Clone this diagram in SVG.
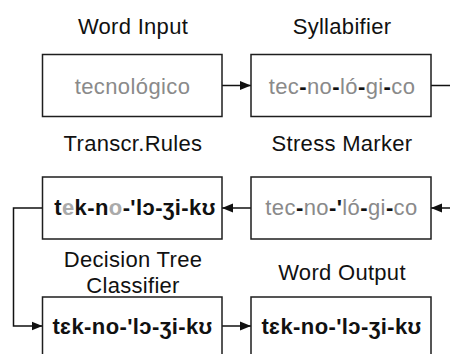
<svg xmlns="http://www.w3.org/2000/svg" width="450" height="354" viewBox="0 0 450 354">
  <style>
    .box { fill: #ffffff; stroke: #1e1e1e; stroke-width: 1.5; }
    .title { font-family: "Liberation Sans", Arial, "DejaVu Sans", sans-serif; font-size: 22px; letter-spacing: 0.3px; fill: #111; text-anchor: middle; }
    .word { font-family: "Liberation Sans", Arial, "DejaVu Sans", sans-serif; font-size: 22px; letter-spacing: 0.4px; text-anchor: middle; }
    .soft { fill: #8a8a8a; }
    .dark { fill: #111; font-weight: bold; }
    .faint { fill: #aaaaaa; }
    .ipa { font-weight: bold; fill: #111; }
    .link { fill: none; stroke: #111; stroke-width: 1.5; }
  </style>
  <defs>
    <marker id="arrow" viewBox="0 0 11 10" refX="11" refY="5" markerWidth="11" markerHeight="10" markerUnits="userSpaceOnUse" orient="auto">
      <path d="M0,0.5 L11,5 L0,9.5 Z" fill="#111"/>
    </marker>
  </defs>

  <!-- Connectors between the stages -->
  <g id="connectors">
    <path class="link" d="M222,85.5 H251" marker-end="url(#arrow)"/>
    <path class="link" d="M431,85.5 H460 V208 H431" marker-end="url(#arrow)"/>
    <path class="link" d="M251,208 H222" marker-end="url(#arrow)"/>
    <path class="link" d="M42.5,208 H13.5 V326 H42.5" marker-end="url(#arrow)"/>
    <path class="link" d="M222,326 H251" marker-end="url(#arrow)"/>
  </g>

  <g id="word-input">
    <text class="title" x="133" y="34">Word Input</text>
    <rect class="box" x="42.5" y="54.5" width="179.5" height="62"/>
    <text class="word soft" x="132.5" y="93.5">tecnológico</text>
  </g>

  <g id="syllabifier">
    <text class="title" x="342" y="34">Syllabifier</text>
    <rect class="box" x="251" y="54.5" width="180" height="62"/>
    <text class="word soft" x="342" y="93.5">tec<tspan class="dark">-</tspan>no<tspan class="dark">-</tspan>ló<tspan class="dark">-</tspan>gi<tspan class="dark">-</tspan>co</text>
  </g>

  <g id="stress-marker">
    <text class="title" x="342" y="151">Stress Marker</text>
    <rect class="box" x="251" y="177" width="180" height="62"/>
    <text class="word soft" x="341.5" y="215">tec<tspan class="dark">-</tspan>no<tspan class="dark">-'</tspan>ló<tspan class="dark">-</tspan>gi<tspan class="dark">-</tspan>co</text>
  </g>

  <g id="transcr-rules">
    <text class="title" x="133" y="151">Transcr.Rules</text>
    <rect class="box" x="42.5" y="177" width="179.5" height="62"/>
    <text class="word ipa" x="135" y="215">t<tspan class="faint">e</tspan>k-n<tspan class="faint">o</tspan>-'lɔ-ʒi-kʊ</text>
  </g>

  <g id="decision-tree-classifier">
    <text class="title" x="133" y="266.5">Decision Tree</text>
    <text class="title" x="133" y="293">Classifier</text>
    <rect class="box" x="42.5" y="297" width="179.5" height="62"/>
    <text class="word ipa" x="132.5" y="333.5">tɛk-no-'lɔ-ʒi-kʊ</text>
  </g>

  <g id="word-output">
    <text class="title" x="342" y="280">Word Output</text>
    <rect class="box" x="251" y="297" width="180" height="62"/>
    <text class="word ipa" x="341.5" y="333.5">tɛk-no-'lɔ-ʒi-kʊ</text>
  </g>
</svg>
